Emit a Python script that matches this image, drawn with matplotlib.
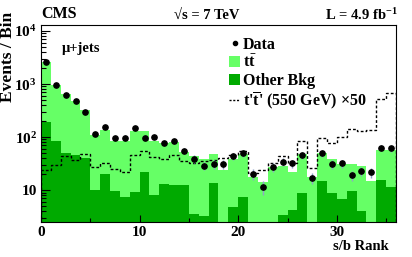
import numpy as np
import matplotlib
matplotlib.use("Agg")
import matplotlib.pyplot as plt
from matplotlib.lines import Line2D
from matplotlib.patches import Patch

plt.rcParams['font.family'] = ['Liberation Serif', 'DejaVu Serif']
plt.rcParams['font.weight'] = 'bold'
plt.rcParams['mathtext.fontset'] = 'custom'
plt.rcParams['mathtext.rm'] = 'Liberation Serif:bold'
plt.rcParams['mathtext.bf'] = 'Liberation Serif:bold'
plt.rcParams['mathtext.it'] = 'Liberation Serif:bold'

# s/b rank bins 0..35
bin_edges = np.arange(37)

# stacked background: other bkg + ttbar (ttbar given as the part on top)
other_bkg = [192, 85, 49, 45, 40, 10, 20, 9.7, 7.5, 9.2,
             22, 8.2, 13, 12.4, 12.5, 3.6, 3.2, 13.7, 0, 4.8,
             7.4, 0, 0, 0, 3.4, 4.2, 9.0, 0, 14.8, 9.0,
             6.7, 9.6, 4.1, 0, 15.4, 11.5]
total_bkg = [2630, 980, 650, 470, 330, 109, 135, 85, 86, 130,
             132, 86, 78, 82, 52, 43, 39, 47, 24, 39,
             47, 18, 14, 27, 29, 22, 48, 18, 50, 39,
             31, 31, 28, 15, 57, 56]
ttbar = [t - o for t, o in zip(total_bkg, other_bkg)]

data = [2600, 980, 620, 480, 300, 115, 156, 96, 98, 146,
        98, 100, 76, 83, 55, 39, 29, 31, 31, 44,
        50, 20, 11.5, 27, 34, 32, 46, 17, 49, 31,
        32, 19, 23, 21.5, 63, 61]

# t't' (550 GeV) x50
tprime = [24, 30, 43, 37, 47, 27, 32, 25, 22, 45,
          54, 42, 38, 46, 36, 32, 35, 37, 41, 46,
          55, 21, 24, 32, 44, 32, 85, 26, 95, 78,
          99, 140, 130, 135, 520, 690]

light = '#66ff66'
dark = '#00aa00'

fig = plt.figure(figsize=(4.12, 2.57), dpi=100)
ax = fig.add_axes([41/412, 1 - 222/257, 355/412, 197/257])

lefts = bin_edges[:-1]
ax.bar(lefts, ttbar, width=1, bottom=other_bkg, align='edge', color=light, linewidth=0)
ax.bar(lefts, other_bkg, width=1, align='edge', color=dark, linewidth=0)
ax.stairs(tprime, bin_edges, color='black', linewidth=1.0, linestyle=(0, (2, 1.5)))

centers = lefts + 0.5
ax.errorbar(centers, data, yerr=np.sqrt(data), fmt='o', ms=3.8, color='black',
            ecolor='#8fa3c8', elinewidth=1, capsize=0, zorder=5)

ax.set_yscale('log')
ax.set_xlim(0, 36)
ax.set_ylim(2.5, 1.3e4)

ax.set_yticks([10, 100, 1000, 10000],
              ['10', r'$10^{2}$', r'$10^{3}$', r'$10^{4}$'])
ax.yaxis.set_minor_locator(matplotlib.ticker.LogLocator(base=10, subs=np.arange(2, 10)))
ax.yaxis.set_minor_formatter(matplotlib.ticker.NullFormatter())
ax.set_xticks([0, 10, 20, 30])
ax.set_xticks([5, 15, 25, 35], minor=True)
ax.tick_params(which='both', direction='in', top=False, right=False, labelsize=11)
ax.tick_params(axis='y', which='major', length=6.5, width=0.8, pad=3)
ax.tick_params(axis='y', which='minor', length=3.5, width=0.8)
ax.tick_params(axis='x', which='major', length=5, width=0.8, pad=3)
ax.tick_params(axis='x', which='minor', length=3, width=0.8)
for s in ax.spines.values():
    s.set_linewidth(0.8)

fig.text(389/412, 1 - 247/257, 's/b Rank', ha='right', va='center', fontsize=10.5)
fig.text(8/412, 1 - 12/257, 'Events / Bin', rotation=90, ha='center', va='top', fontsize=12.5)
fig.text(41/412, 1 - 14/257, 'CMS', ha='left', va='center', fontsize=11.5)
fig.text(207/412, 1 - 15/257, '√s = 7 TeV', ha='center', va='center', fontsize=10.5)
fig.text(398/412, 1 - 15/257, r'L = 4.9 fb$^{-1}$', ha='right', va='center', fontsize=10.5)
ax.text(0.059, 0.883, 'μ+jets', transform=ax.transAxes, ha='left', va='center', fontsize=10.5)

handles = [Line2D([], [], marker='o', ms=3, color='black', linestyle='none'),
           Patch(facecolor=light),
           Patch(facecolor=dark),
           Line2D([], [], color='black', linewidth=1.0, linestyle=(0, (1.5, 1.2)))]
labels = ['Data', r'$\mathbf{t\bar{t}}$', 'Other Bkg',
          r"t'$\overline{\mathrm{t}}$' (550 GeV) ×50"]
ax.legend(handles, labels, loc='upper left', bbox_to_anchor=(0.53, 0.94),
          frameon=False, fontsize=11.5, handlelength=0.7, handleheight=0.7,
          handletextpad=0.15, labelspacing=0.1, borderpad=0, borderaxespad=0)

fig.savefig('out.png', dpi=100)
